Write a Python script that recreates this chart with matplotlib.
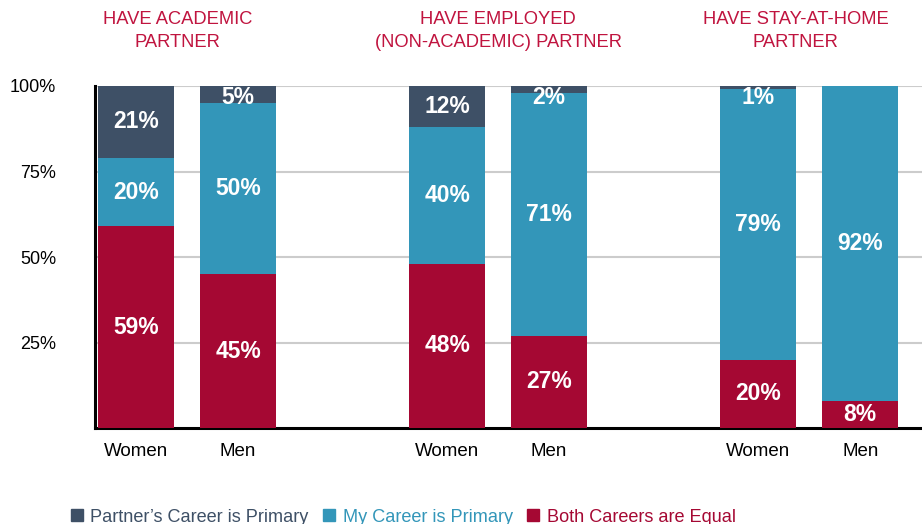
import matplotlib.pyplot as plt
from matplotlib.lines import Line2D

plt.rcParams['font.family'] = ['Liberation Sans', 'DejaVu Sans']

groups = ['HAVE ACADEMIC\nPARTNER', 'HAVE EMPLOYED\n(NON-ACADEMIC) PARTNER', 'HAVE STAY-AT-HOME\nPARTNER']
genders = ['Women', 'Men']
series = ['Partner\u2019s Career is Primary', 'My Career is Primary', 'Both Careers are Equal']

# values per bar: academic W/M, employed W/M, stay-at-home W/M
both_equal = [59, 45, 48, 27, 20, 8]
my_primary = [20, 50, 40, 71, 79, 92]
partner_primary = [21, 5, 12, 2, 1, 0]

c_partner = '#3e5066'
c_mine = '#3396b9'
c_both = '#a50833'
c_title = '#c0143f'

fig = plt.figure(figsize=(9.22, 5.24), dpi=100)
ax = fig.add_axes([95 / 922, 1 - 428 / 524, 1 - 95 / 922, (428 - 86) / 524])

# bar positions: pairs inside each group, wider gap between groups
xs = []
for g in range(3):
    for i in range(2):
        xs.append(g * 3.05 + i)
w = 0.745

ax.bar(xs, both_equal, w, color=c_both, zorder=3)
ax.bar(xs, my_primary, w, bottom=both_equal, color=c_mine, zorder=3)
bottoms = [a + b for a, b in zip(both_equal, my_primary)]
ax.bar(xs, partner_primary, w, bottom=bottoms, color=c_partner, zorder=3)

# labels in segments
def put(x, y0, v):
    if v <= 0:
        return
    y = min(y0 + v / 2, 96.5)
    ax.text(x, y, f'{v}%', ha='center', va='center', color='white',
            fontsize=16.5, fontweight='bold', zorder=4)

for k, x in enumerate(xs):
    put(x, 0, both_equal[k])
    put(x, both_equal[k], my_primary[k])
    put(x, bottoms[k], partner_primary[k])

ax.set_xlim(-0.402, 7.706)
ax.set_ylim(0, 100)
ax.set_yticks([25, 50, 75, 100])
ax.set_yticklabels(['25%', '50%', '75%', '100%'], fontsize=13)
ax.yaxis.grid(True, color='#cccccc', linewidth=1.5, zorder=0)
ax.set_xticks(xs)
ax.set_xticklabels(genders * 3, fontsize=13.5)
ax.tick_params(axis='both', length=0, colors='black')
ax.tick_params(axis='y', pad=28)
ax.tick_params(axis='x', pad=11)

for s in ['top', 'right']:
    ax.spines[s].set_visible(False)
ax.spines['left'].set_linewidth(2.2)
ax.spines['bottom'].set_linewidth(2.2)

# group titles
shift = [-0.09, 0.0, -0.13]
for g, t in enumerate(groups):
    xc = g * 3.05 + 0.5 + shift[g]
    ax.text(xc, (428 - 31) / 342, t, transform=ax.get_xaxis_transform(),
            ha='center', va='center', color=c_title, fontsize=13.2,
            linespacing=1.4)

handles = [Line2D([], [], marker='s', linestyle='none', color=c, markersize=9)
           for c in [c_partner, c_mine, c_both]]
fig.legend(handles, series, loc='center left', ncol=3, frameon=False,
           bbox_to_anchor=(62 / 922, 1 - 517 / 524), fontsize=13.1,
           labelcolor=[c_partner, c_mine, c_both], handlelength=0.8,
           handletextpad=0.35, columnspacing=0.72, borderaxespad=0)

fig.savefig('out.png', dpi=100)
